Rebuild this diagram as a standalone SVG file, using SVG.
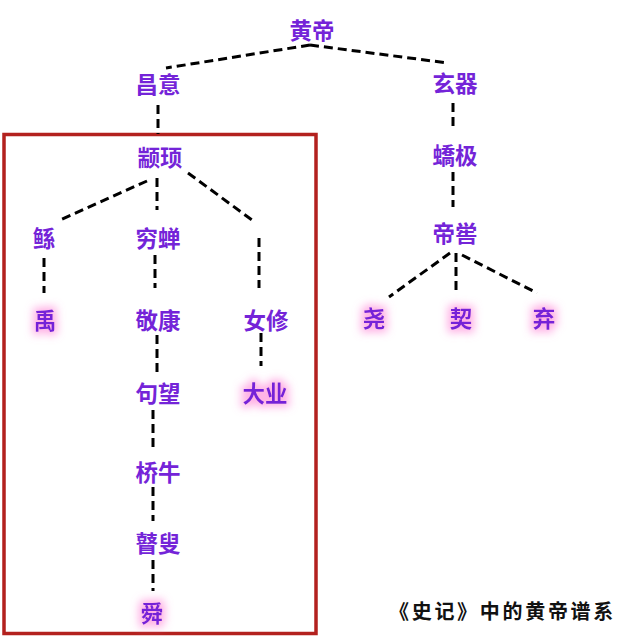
<svg xmlns="http://www.w3.org/2000/svg" width="640" height="640" viewBox="0 0 640 640">
<defs>
<style>
.n{font-family:"Noto Sans CJK SC","Noto Sans",sans-serif;font-weight:bold;font-size:22.5px;fill:#7424d8;text-anchor:middle}
.c{fill:none;stroke:#000;stroke-width:3;stroke-dasharray:9 5}
.cap{font-family:"Noto Sans CJK SC",sans-serif;font-weight:bold;font-size:20px;fill:#111;letter-spacing:2.7px}
</style>
<filter id="glow" x="-50%" y="-50%" width="200%" height="200%">
<feMorphology in="SourceAlpha" operator="dilate" radius="2.5" result="d"/>
<feFlood flood-color="#ff7ad2" flood-opacity="0.6"/>
<feComposite in2="d" operator="in"/>
<feGaussianBlur stdDeviation="4" result="g"/>
<feMerge><feMergeNode in="g"/><feMergeNode in="SourceGraphic"/></feMerge>
</filter>
</defs>
<rect width="640" height="640" fill="#fff"/>
<rect id="box" x="4" y="134.5" width="312" height="499" fill="none" stroke="#b3211e" stroke-width="3.5"/>
<g id="connectors">
<path class="c" d="M310 45 L166 68"/>
<path class="c" d="M310 45 L448 63"/>
<path class="c" d="M158 105 V134"/>
<path class="c" d="M147 181 L60 220"/>
<path class="c" d="M157 178 V210"/>
<path class="c" d="M188 173 L252 220"/>
<path class="c" d="M259 238 V288"/>
<path class="c" d="M44 258 V293"/>
<path class="c" d="M155 255 V288"/>
<path class="c" d="M157 335 V372"/>
<path class="c" d="M261 333 V366"/>
<path class="c" d="M153 410 V450"/>
<path class="c" d="M153 487 V521"/>
<path class="c" d="M153 560 V591"/>
<path class="c" d="M453 103 V131"/>
<path class="c" d="M453 172 V207"/>
<path class="c" d="M450 253 L389 297"/>
<path class="c" d="M456 253 V290"/>
<path class="c" d="M462 255 L537 293"/>
</g>
<g id="n-huangdi"><text class="n" x="312" y="39">黄帝</text></g>
<g id="n-changyi"><text class="n" x="158" y="93">昌意</text></g>
<g id="n-xuanxiao"><text class="n" x="455" y="92">玄器</text></g>
<g id="n-zhuanxu"><text class="n" x="160" y="166">颛顼</text></g>
<g id="n-qiaoji"><text class="n" x="455" y="164">蟜极</text></g>
<g id="n-gun"><text class="n" x="44" y="247">鲧</text></g>
<g id="n-qiongchan"><text class="n" x="158" y="247">穷蝉</text></g>
<g id="n-diku"><text class="n" x="455" y="242">帝喾</text></g>
<g id="n-yu"><text class="n" x="45" y="329" filter="url(#glow)">禹</text></g>
<g id="n-jingkang"><text class="n" x="158" y="329">敬康</text></g>
<g id="n-nvxiu"><text class="n" x="266" y="329">女修</text></g>
<g id="n-yao"><text class="n" x="374" y="327" filter="url(#glow)">尧</text></g>
<g id="n-xie"><text class="n" x="461" y="327" filter="url(#glow)">契</text></g>
<g id="n-qi"><text class="n" x="544" y="327" filter="url(#glow)">弃</text></g>
<g id="n-juwang"><text class="n" x="158" y="402">句望</text></g>
<g id="n-daye"><text class="n" x="265" y="402" filter="url(#glow)">大业</text></g>
<g id="n-qiaoniu"><text class="n" x="158" y="481">桥牛</text></g>
<g id="n-gusou"><text class="n" x="158" y="552">瞽叟</text></g>
<g id="n-shun"><text class="n" x="152" y="622" filter="url(#glow)">舜</text></g>
<text class="cap" x="389" y="619">《史记》中的黄帝谱系</text>
</svg>
